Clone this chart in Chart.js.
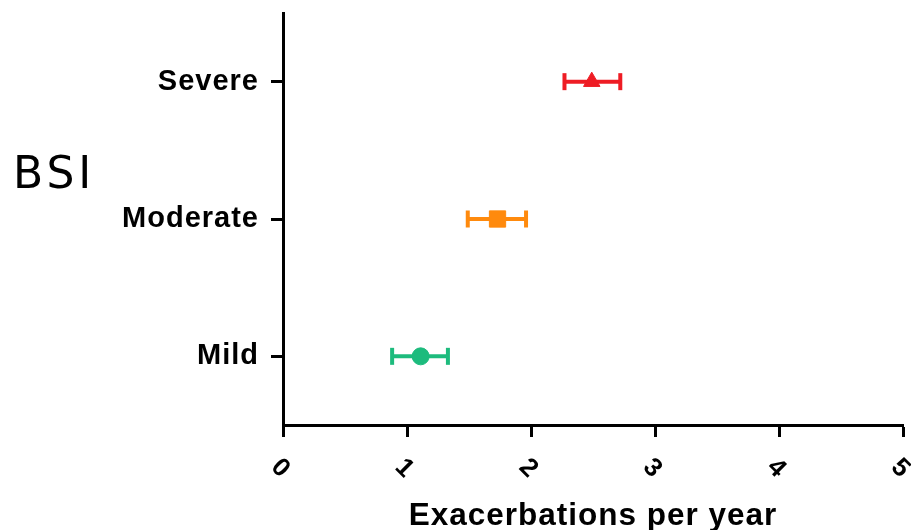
<!DOCTYPE html>
<html>
<head>
<meta charset="utf-8">
<script src="https://cdn.jsdelivr.net/npm/chart.js@4.4.1/dist/chart.umd.min.js"></script>
<style>
  html, body { margin: 0; padding: 0; background: #fff; }
  #wrap { position: relative; width: 911px; height: 530px; }
</style>
</head>
<body>
<div id="wrap"><canvas id="c" width="911" height="530"></canvas></div>
<script>
// ---- data ----
const categories = ['Severe', 'Moderate', 'Mild'];
const means = [2.49, 1.73, 1.11];
const lower = [2.27, 1.49, 0.88];
const upper = [2.72, 1.96, 1.33];
const xTicks = [0, 1, 2, 3, 4, 5];
const xTitle = 'Exacerbations per year';
const groupTitle = 'BSI';

// ---- styles ----
const colors = ['#ee1c24', '#ff8a0d', '#1dbb7d'];
const markers = ['triangle', 'rect', 'circle'];
const markerRadius = [9.5, 11.5, 8.5];

// keep the markers from adding automatic padding around the plot area
try {
  Chart.registry.getController('scatter').prototype.getMaxOverflow = function () { return false; };
} catch (e) {}

const datasets = [];
categories.forEach((cat, i) => {
  datasets.push({
    label: cat,
    data: [{ x: means[i], y: cat }],
    pointStyle: markers[i],
    pointRadius: markerRadius[i],
    pointHoverRadius: markerRadius[i],
    backgroundColor: colors[i],
    borderColor: colors[i],
    pointBorderWidth: 1,
    showLine: false,
    order: 0
  });
});
categories.forEach((cat, i) => {
  datasets.push({
    label: cat + ' error',
    data: [{ x: lower[i], y: cat }, { x: upper[i], y: cat }],
    showLine: true,
    borderColor: colors[i],
    backgroundColor: colors[i],
    borderWidth: 4,
    pointStyle: 'line',
    rotation: 90,
    pointRadius: 8.5,
    pointHoverRadius: 8.5,
    pointBorderWidth: 4,
    pointBorderColor: colors[i],
    order: 1
  });
});

const spacingPlugin = {
  id: 'spacing',
  beforeDraw(chart) {
    try { chart.ctx.letterSpacing = '1px'; } catch (e) {}
  }
};

const groupLabelPlugin = {
  id: 'groupLabel',
  afterDraw(chart) {
    const ctx = chart.ctx;
    ctx.save();
    ctx.font = '44px "DejaVu Sans"';
    ctx.fillStyle = '#000';
    ctx.textAlign = 'left';
    ctx.textBaseline = 'alphabetic';
    try { ctx.letterSpacing = '4px'; } catch (e) {}
    ctx.fillText(groupTitle, 13, 188);
    ctx.restore();
  }
};

const zeroPad = () => ({ left: 0, top: 0, right: 0, bottom: 0 });

new Chart(document.getElementById('c'), {
  type: 'scatter',
  data: { datasets },
  plugins: [spacingPlugin, groupLabelPlugin],
  options: {
    responsive: false,
    animation: false,
    devicePixelRatio: 1,
    layout: { padding: { left: 0, right: 8, top: 13, bottom: 0 } },
    plugins: { legend: { display: false }, tooltip: { enabled: false } },
    scales: {
      x: {
        type: 'linear',
        min: 0,
        max: 5,
        afterBuildTicks(scale) { scale.ticks = xTicks.map(v => ({ value: v })); },
        afterFit(scale) {
          scale.height = 105;
          scale.paddingLeft = 0; scale.paddingRight = 0;
          scale.getPadding = zeroPad;
        },
        grid: { drawOnChartArea: false, drawTicks: true, tickLength: 12, tickWidth: 3, tickColor: '#000', color: '#000' },
        border: { display: true, width: 3, color: '#000' },
        ticks: {
          minRotation: -45,
          maxRotation: -45,
          padding: 26,
          labelOffset: 3,
          color: '#000',
          font: { family: '"Liberation Sans", Arial, sans-serif', size: 26, weight: 'bold' }
        },
        title: {
          display: true,
          text: xTitle,
          color: '#000',
          font: { family: '"Liberation Sans", Arial, sans-serif', size: 31.5, weight: 'bold', lineHeight: 0.9 },
          padding: { top: 0, bottom: 0 }
        }
      },
      y: {
        type: 'category',
        labels: categories,
        offset: true,
        afterFit(scale) {
          scale.width = 283;
          scale.paddingTop = 0; scale.paddingBottom = 0;
          scale.getPadding = zeroPad;
        },
        grid: { drawOnChartArea: false, drawTicks: true, tickLength: 12, tickWidth: 3, tickColor: '#000', color: '#000', offset: false },
        border: { display: true, width: 3, color: '#000' },
        ticks: {
          padding: 12,
          color: '#000',
          font: { family: '"Liberation Sans", Arial, sans-serif', size: 29, weight: 'bold' }
        }
      }
    }
  }
});
</script>
</body>
</html>
